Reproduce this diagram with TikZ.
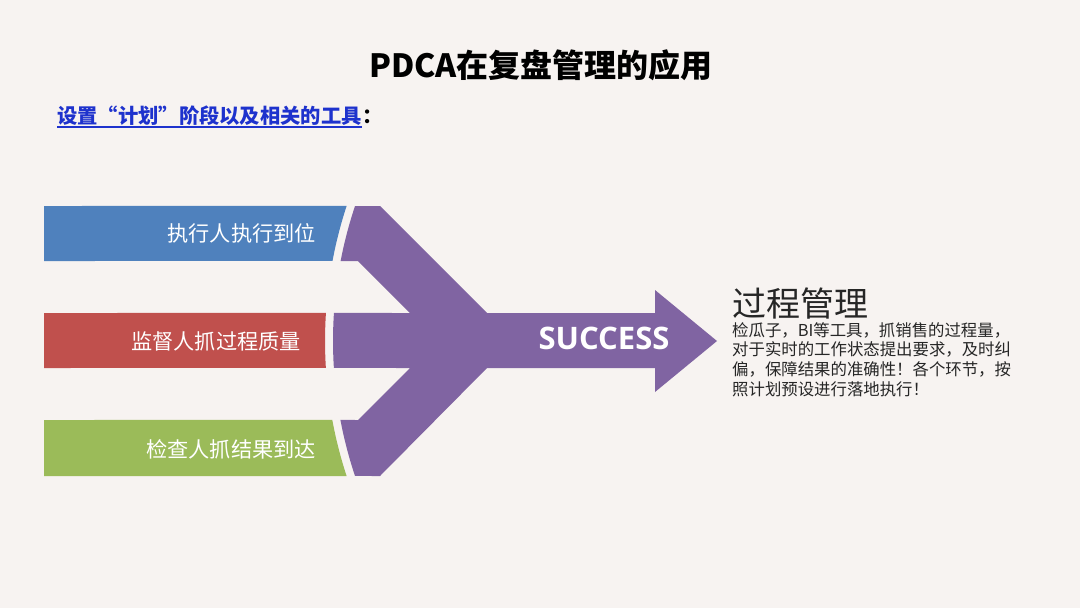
\documentclass[tikz,border=0pt]{standalone}
\usepackage{fontspec}
\setmainfont{Noto Sans CJK SC}
\newfontfamily\succfont{Open Sans}
\usetikzlibrary{calc}
\definecolor{bg}{RGB}{247,243,241}
\definecolor{cblue}{RGB}{79,129,189}
\definecolor{cred}{RGB}{192,80,77}
\definecolor{cgreen}{RGB}{155,187,89}
\definecolor{cpurple}{RGB}{128,100,162}
\definecolor{linkblue}{RGB}{30,50,205}
\definecolor{txt}{RGB}{38,38,38}
\tikzset{
  bartext/.style={anchor=east, text=white, font=\fontsize{21.2}{24}\selectfont, inner sep=0pt},
}
\begin{document}
\begin{tikzpicture}[x=1pt,y=-1pt]
\fill[bg] (0,0) rectangle (1080,608);
\useasboundingbox (0,0) rectangle (1080,608);
\coordinate (C) at (758,341);
% bars
\fill[cblue] (44,206) -- ($(C)+(198.17:433)$) arc[start angle=198.17,end angle=190.65,radius=433] -- (44,261) -- cycle;
\fill[cred] (44,313) -- ($(C)+(183.71:433)$) arc[start angle=183.71,end angle=176.43,radius=433] -- (44,368) -- cycle;
\fill[cgreen] (44,420) -- ($(C)+(169.49:433)$) arc[start angle=169.49,end angle=161.83,radius=433] -- (44,476) -- cycle;
% purple arrow
\fill[cpurple] ($(C)+(198.52:425)$) -- (380,206) -- (487,313) -- (655,313) -- (655,290) -- (717,341)
  -- (655,392) -- (655,368) -- (487,368) -- (380,476) -- ($(C)+(161.48:425)$)
  arc[start angle=161.48,end angle=169.29,radius=425] -- (358,420) -- (410,368)
  -- ($(C)+(176.36:425)$) arc[start angle=176.36,end angle=183.78,radius=425]
  -- (410,313) -- (358,261) -- ($(C)+(190.85:425)$) arc[start angle=190.85,end angle=198.52,radius=425] -- cycle;
% texts
\node[font=\fontsize{32}{36}\selectfont\bfseries, text=black] (title) at (541,65) {PDCA在复盘管理的应用};
\node[anchor=west, inner sep=0pt, text=linkblue, font=\fontsize{20.3}{24}\selectfont\bfseries] (sub) at (57,116) {设置“计划”阶段以及相关的工具};
\node[anchor=base west, inner sep=0pt, font=\fontsize{20.3}{24}\selectfont\bfseries] (colon) at (sub.base east) {：};
\draw[linkblue, line width=1.6pt] ($(sub.base west)+(0,3)$) -- ($(sub.base east)+(0,3)$);
\node[bartext] (t1) at (316,233) {执行人执行到位};
\node[bartext] (t2) at (301,341) {监督人抓过程质量};
\node[bartext] (t3) at (316,449) {检查人抓结果到达};
\node[text=white, font=\fontsize{31}{34}\selectfont\succfont\bfseries, inner sep=0pt] (succ) at (604,338) {SUCCESS};
\node[anchor=west, inner sep=0pt, text=txt, font=\fontsize{34}{38}\selectfont] (pm) at (732,304) {过程管理};
\node[anchor=north west, inner sep=0pt, text=txt, align=left, font=\fontsize{16.4}{19.7}\selectfont] (body) at (732,322)
  {检瓜子，BI等工具，抓销售的过程量，\\对于实时的工作状态提出要求，及时纠\\偏，保障结果的准确性！各个环节，按\\照计划预设进行落地执行！};
\end{tikzpicture}
\end{document}
